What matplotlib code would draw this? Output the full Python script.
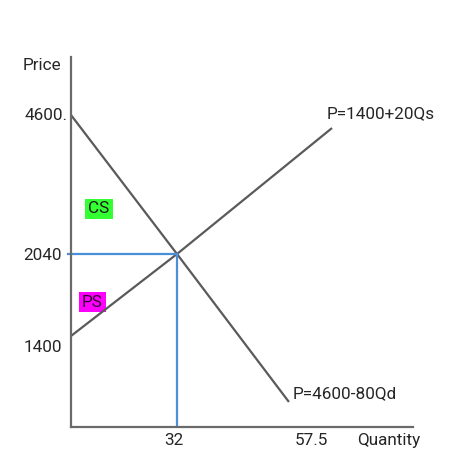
import numpy as np
import matplotlib
matplotlib.use("Agg")
import matplotlib.pyplot as plt
from matplotlib.transforms import ScaledTranslation

plt.rcParams['font.family'] = ['Roboto', 'DejaVu Sans']

# ---- data (read from the schematic) ----
demand_q = [0, 32, 53.3]
demand_p = [4600, 2040, 385]
supply_q = [0, 32, 61.5]
supply_p = [1400, 2040, 4360]
eq_q = 32
eq_p = 2040
x_ticks = [32, 57.5]
x_tick_labels = ["32", "57.5"]
y_ticks = [1400, 2040, 4600]
y_tick_labels = ["1400", "2040", "4600."]
demand_label = "P=4600-80Qd"
supply_label = "P=1400+20Qs"

# schematic (non-linear) axis scales: piecewise linear
x_knots_data = np.array([0, 32, 57.5])
x_knots_pos = np.array([71, 177, 311], float)
y_knots_data = np.array([0, 1400, 2040, 4600])
y_knots_pos = np.array([43, 134, 216, 355], float)


def piecewise(src, dst):
    def f(v):
        v = np.asarray(v, float)
        shape = v.shape
        v1 = np.atleast_1d(v).ravel()
        out = np.interp(v1, src, dst)
        lo = v1 < src[0]
        hi = v1 > src[-1]
        out[lo] = dst[0] + (v1[lo] - src[0]) * (dst[1] - dst[0]) / (src[1] - src[0])
        out[hi] = dst[-1] + (v1[hi] - src[-1]) * (dst[-1] - dst[-2]) / (src[-1] - src[-2])
        return out.reshape(shape)
    return f


fx = piecewise(x_knots_data, x_knots_pos)
ix = piecewise(x_knots_pos, x_knots_data)
fy = piecewise(y_knots_data, y_knots_pos)
iy = piecewise(y_knots_pos, y_knots_data)

W, H = 449, 470
fig = plt.figure(figsize=(W / 100, H / 100), dpi=100)
ax = fig.add_axes([71 / W, 43 / H, 342 / W, 370 / H])
ax.set_xscale('function', functions=(fx, ix))
ax.set_yscale('function', functions=(fy, iy))
ax.set_xlim(0, float(ix(413)))
ax.set_ylim(0, float(iy(413)))

line_col = '#5a5a5a'
blue = '#4a90d9'
txt_col = '#262626'

ax.plot(demand_q, demand_p, color=line_col, lw=1.6, solid_capstyle='butt')
ax.plot(supply_q, supply_p, color=line_col, lw=1.6, solid_capstyle='butt')
ax.plot([-0.9, eq_q], [eq_p, eq_p], color=blue, lw=1.6, clip_on=False)
ax.plot([eq_q, eq_q], [eq_p, 0], color=blue, lw=1.6)

for s in ['top', 'right']:
    ax.spines[s].set_visible(False)
for s in ['left', 'bottom']:
    ax.spines[s].set_color('#6a6a6a')
    ax.spines[s].set_linewidth(1.6)

fs = 12.3
ax.set_xticks(x_ticks)
ax.set_xticklabels(x_tick_labels)
ax.set_yticks(y_ticks)
ax.set_yticklabels(y_tick_labels)
ax.tick_params(axis='both', length=0, labelsize=fs, labelcolor=txt_col)
ax.tick_params(axis='x', pad=4)
ax.tick_params(axis='y', pad=6.5)
ax.minorticks_off()

# small label shifts
for lab in ax.get_yticklabels():
    t = lab.get_text()
    if t == "1400":
        lab.set_transform(lab.get_transform() + ScaledTranslation(0, -10 / 100, fig.dpi_scale_trans))
    if t == "4600.":
        lab.set_transform(lab.get_transform() + ScaledTranslation(6 / 100, 1 / 100, fig.dpi_scale_trans))
for lab in ax.get_xticklabels():
    if lab.get_text() == "32":
        lab.set_transform(lab.get_transform() + ScaledTranslation(-3 / 100, 0, fig.dpi_scale_trans))

ax.text((42 - 71) / 342, 1 - 9 / 370, "Price", transform=ax.transAxes,
        ha='center', va='center', fontsize=fs, color=txt_col)
ax.text((389 - 71) / 342, -13 / 370, "Quantity", transform=ax.transAxes,
        ha='center', va='center', fontsize=fs, color=txt_col)

ax.annotate(supply_label, (supply_q[-1], supply_p[-1]), xytext=(-5, 14),
            textcoords='offset pixels', ha='left', va='center', fontsize=fs,
            color=txt_col)
ax.annotate(demand_label, (demand_q[-1], demand_p[-1]), xytext=(4, 8),
            textcoords='offset pixels', ha='left', va='center', fontsize=fs,
            color=txt_col)

ax.text(8.45, 2870, "CS", ha='center', va='center', fontsize=fs, color='#1a1a1a',
        bbox=dict(boxstyle='square,pad=0.17', fc='#33ff33', ec='none'))
ax.text(6.5, 1665, "PS", ha='center', va='center', fontsize=fs, color='#330033',
        bbox=dict(boxstyle='square,pad=0.17', fc='#ff00ff', ec='none'), zorder=1)

fig.savefig('out.png', dpi=100, facecolor='white')
